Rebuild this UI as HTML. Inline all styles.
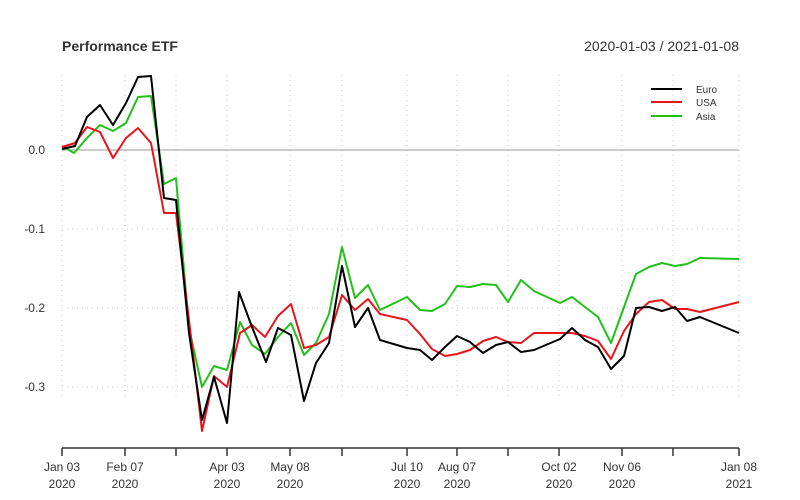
<!DOCTYPE html>
<html><head><style>body{margin:0;background:#fff}svg{display:block}</style></head><body>
<svg width="800" height="500" xmlns="http://www.w3.org/2000/svg" font-family="Liberation Sans, Arial, sans-serif">
<rect width="800" height="500" fill="#fff"/>
<text x="62" y="51" font-size="14" font-weight="bold" fill="#333">Performance ETF</text>
<text x="739" y="51" font-size="14" fill="#333" text-anchor="end">2020-01-03 / 2021-01-08</text>
<g stroke="#ccc" stroke-width="1" stroke-dasharray="1,4">
<line x1="62" y1="229" x2="739" y2="229"/><line x1="62" y1="308" x2="739" y2="308"/><line x1="62" y1="387" x2="739" y2="387"/>
<line x1="62" y1="75" x2="62" y2="400"/><line x1="125" y1="75" x2="125" y2="400"/><line x1="176" y1="75" x2="176" y2="400"/><line x1="227" y1="75" x2="227" y2="400"/><line x1="290" y1="75" x2="290" y2="400"/><line x1="342" y1="75" x2="342" y2="400"/><line x1="407" y1="75" x2="407" y2="400"/><line x1="457" y1="75" x2="457" y2="400"/><line x1="508" y1="75" x2="508" y2="400"/><line x1="559" y1="75" x2="559" y2="400"/><line x1="622" y1="75" x2="622" y2="400"/><line x1="673" y1="75" x2="673" y2="400"/><line x1="739" y1="75" x2="739" y2="400"/>
</g>
<line x1="62" y1="150" x2="739" y2="150" stroke="#999" stroke-width="1"/>
<g font-size="12" fill="#333" text-anchor="end">
<text x="45" y="154">0.0</text><text x="45" y="233">-0.1</text><text x="45" y="312">-0.2</text><text x="45" y="391">-0.3</text>
</g>
<g fill="none" stroke-width="2" stroke-linejoin="round">
<polyline stroke="#22c01a" points="62,146 74,153 87,138 100,125 113,131 126,123 138,97 151,96 164,184 176,178 189,328 202,387 214,366 227,370 240,322 252,345 265,354 278,337 291,323 304,355 316,343 329,314 342,247 355,298 368,285 380,310 407,297 420,310 432,311 445,304 457,286 470,287 483,284 496,285 508,302 521,280 534,291 560,303 572,297 585,307 598,317 611,343 624,307 636,274 649,267 662,263 675,266 687,264 700,258 739,259"/>
<polyline stroke="#e8141c" points="62,147 75,143 87,127 100,132 113,158 126,138 138,128 151,143 164,213 176,213 189,320 202,431 214,376 227,387 240,333 252,325 265,337 278,316 291,304 304,348 316,345 329,337 342,295 355,310 368,299 380,314 407,320 420,334 432,349 445,356 457,354 470,350 483,341 496,337 508,342 521,343 534,333 560,333 572,333 585,336 598,341 611,359 624,331 636,314 649,302 662,300 675,309 687,309 700,312 739,302"/>
<polyline stroke="#000" points="62,149 75,146 87,117 100,105 113,125 126,103 138,77 151,76 164,198 176,200 189,333 202,420 214,377 227,423 239,292 252,327 266,362 278,328 291,335 304,401 316,363 329,343 342,266 355,327 368,308 380,340 407,348 420,350 432,360 445,347 457,336 470,342 483,353 496,345 508,342 521,352 534,350 560,339 572,328 585,340 598,347 611,369 624,356 636,308 649,307 662,311 675,307 687,321 700,317 739,333"/>
</g>
<g stroke-width="2"><line x1="651" y1="89" x2="682" y2="89" stroke="#000"/><line x1="651" y1="102" x2="682" y2="102" stroke="#e8141c"/><line x1="651" y1="116" x2="682" y2="116" stroke="#22c01a"/></g>
<g font-size="10" fill="#333"><text x="696" y="93">Euro</text><text x="696" y="106">USA</text><text x="696" y="120">Asia</text></g>
<line x1="62" y1="448" x2="739" y2="448" stroke="#333" stroke-width="1.5"/>
<g stroke="#333" stroke-width="1.5">
<line x1="62" y1="448" x2="62" y2="456"/><line x1="125" y1="448" x2="125" y2="456"/><line x1="176" y1="448" x2="176" y2="456"/><line x1="227" y1="448" x2="227" y2="456"/><line x1="290" y1="448" x2="290" y2="456"/><line x1="342" y1="448" x2="342" y2="456"/><line x1="407" y1="448" x2="407" y2="456"/><line x1="457" y1="448" x2="457" y2="456"/><line x1="508" y1="448" x2="508" y2="456"/><line x1="559" y1="448" x2="559" y2="456"/><line x1="622" y1="448" x2="622" y2="456"/><line x1="673" y1="448" x2="673" y2="456"/><line x1="739" y1="448" x2="739" y2="456"/>
</g>
<g font-size="12" fill="#333" text-anchor="middle">
<text x="62" y="471">Jan 03</text><text x="62" y="488">2020</text>
<text x="125" y="471">Feb 07</text><text x="125" y="488">2020</text>
<text x="227" y="471">Apr 03</text><text x="227" y="488">2020</text>
<text x="290" y="471">May 08</text><text x="290" y="488">2020</text>
<text x="407" y="471">Jul 10</text><text x="407" y="488">2020</text>
<text x="457" y="471">Aug 07</text><text x="457" y="488">2020</text>
<text x="559" y="471">Oct 02</text><text x="559" y="488">2020</text>
<text x="622" y="471">Nov 06</text><text x="622" y="488">2020</text>
<text x="739" y="471">Jan 08</text><text x="739" y="488">2021</text>
</g>
</svg>
</body></html>
